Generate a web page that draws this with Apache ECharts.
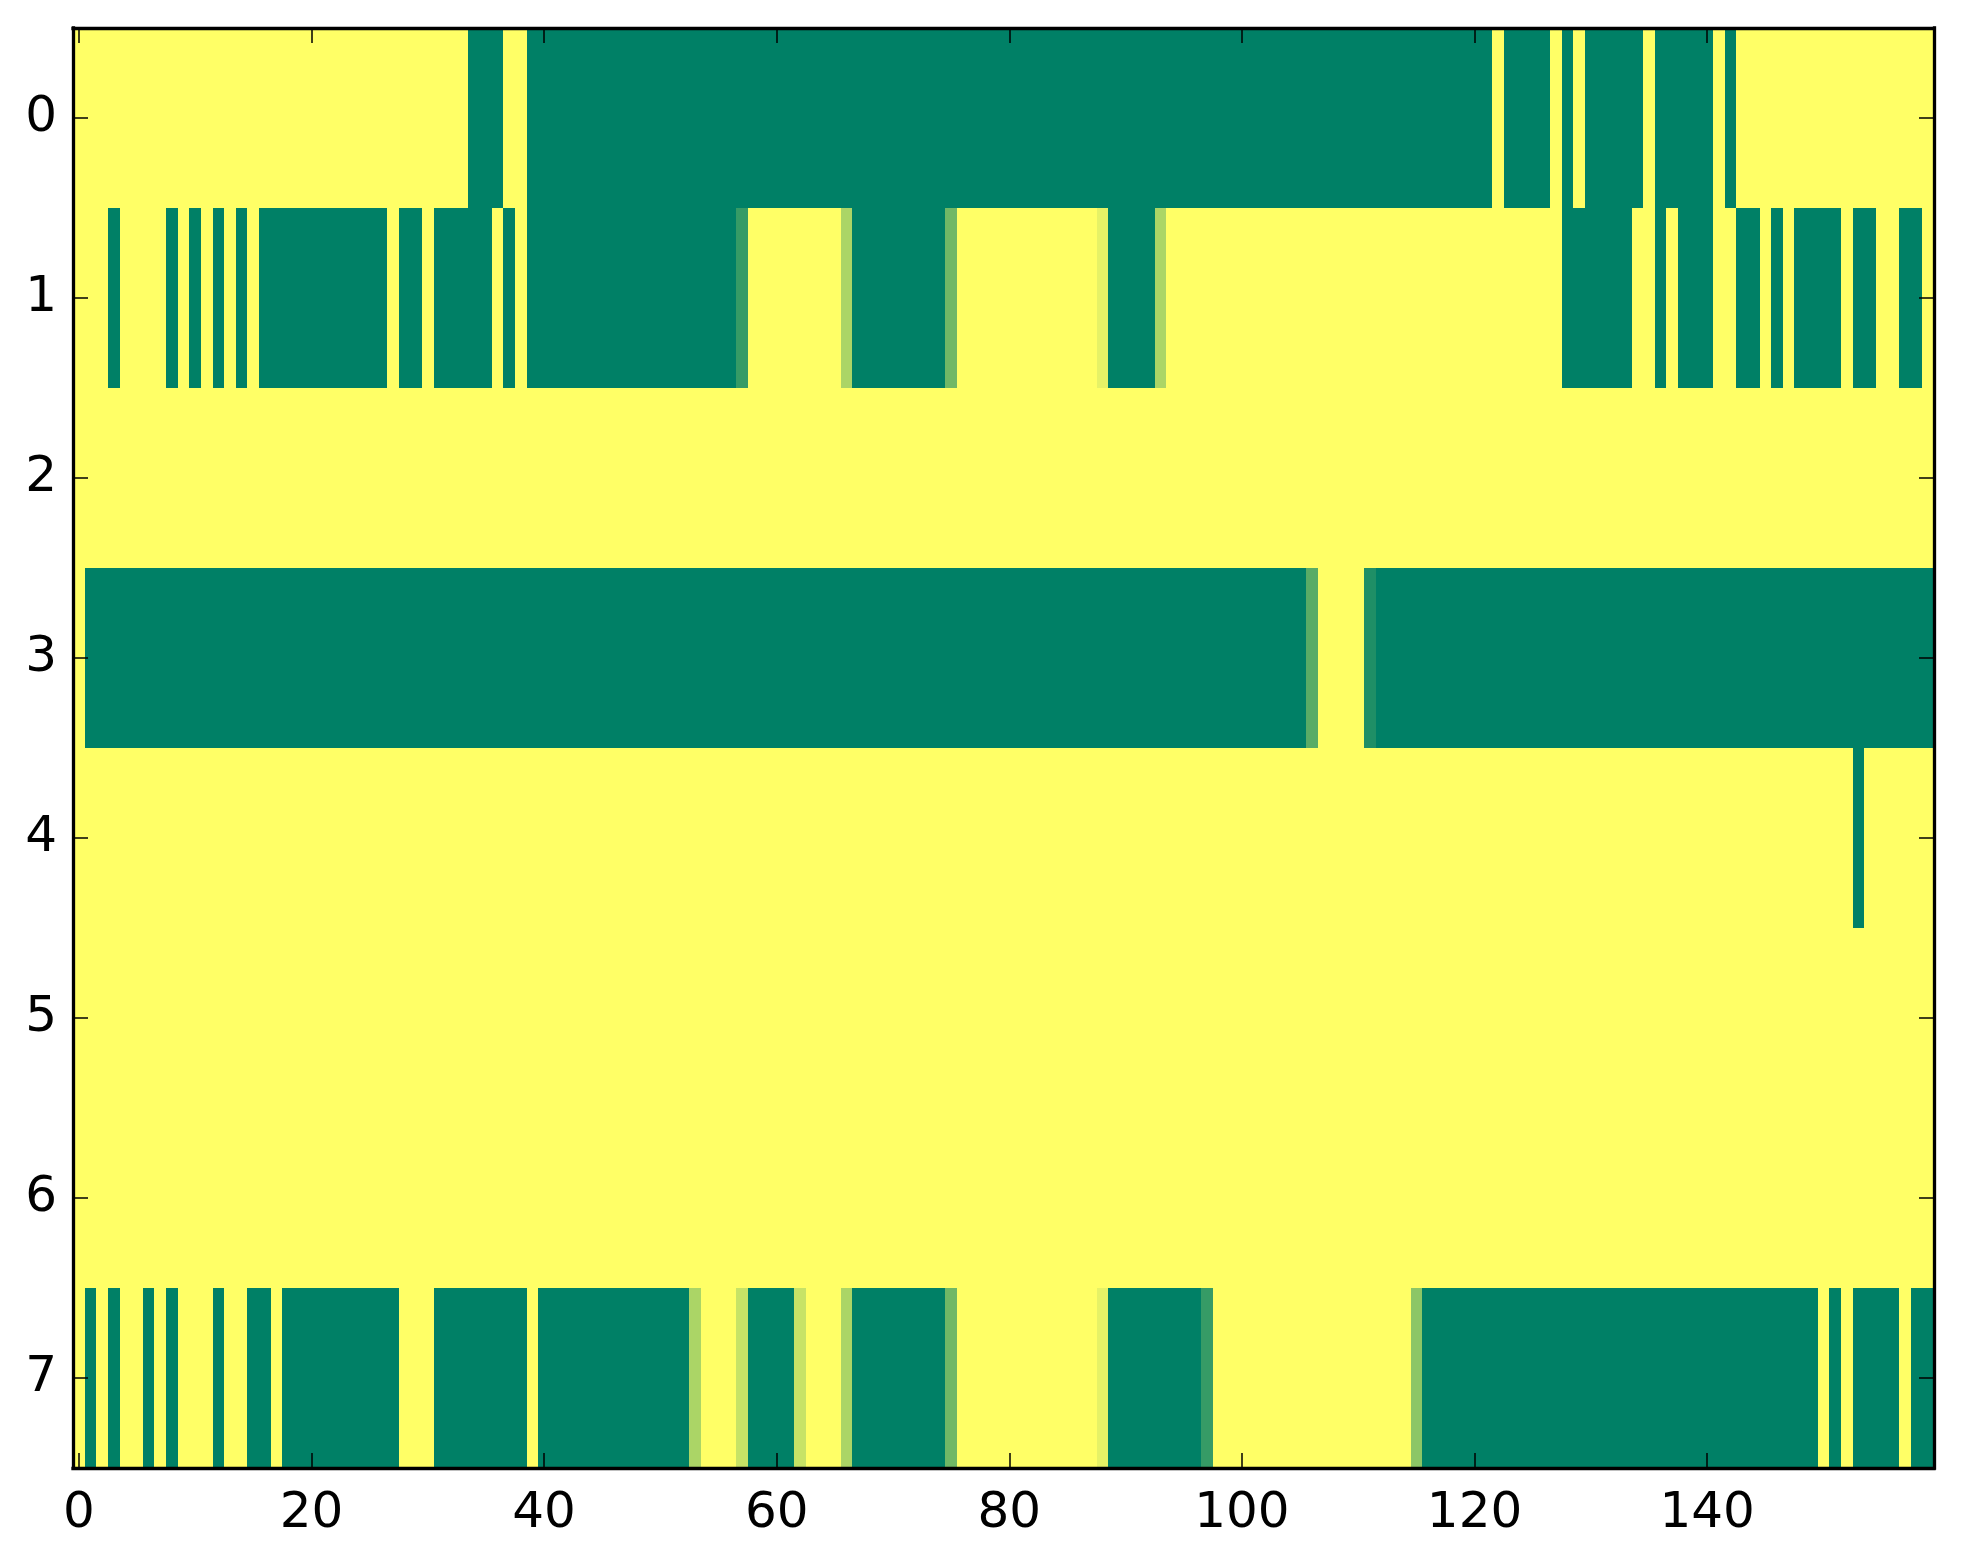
<!DOCTYPE html>
<html>
<head>
<meta charset="utf-8">
<script src="https://cdn.jsdelivr.net/npm/echarts@6/dist/echarts.min.js"></script>
<style>
html,body{margin:0;padding:0;background:#ffffff;}
#chart{width:1963px;height:1564px;}
</style>
</head>
<body>
<div id="chart"></div>
<script>
// Row values (0 = green end, 1 = yellow end of the "summer" colormap)
const row0 = [
1,1,1,1,1,1,1,1,1,1,
1,1,1,1,1,1,1,1,1,1,
1,1,1,1,1,1,1,1,1,1,
1,1,1,1,0,0,0,1,1,0,
0,0,0,0,0,0,0,0,0,0,
0,0,0,0,0,0,0,0,0,0,
0,0,0,0,0,0,0,0,0,0,
0,0,0,0,0,0,0,0,0,0,
0,0,0,0,0,0,0,0,0,0,
0,0,0,0,0,0,0,0,0,0,
0,0,0,0,0,0,0,0,0,0,
0,0,0,0,0,0,0,0,0,0,
0,0,1,0,0,0,0,1,0,1,
0,0,0,0,0,1,0,0,0,0,
0,1,0,1,1,1,1,1,1,1,
1,1,1,1,1,1,1,1,1,1
];
const row1 = [
1,1,1,0,1,1,1,1,0,1,
0,1,0,1,0,1,0,0,0,0,
0,0,0,0,0,0,0,1,0,0,
1,0,0,0,0,0,1,0,1,0,
0,0,0,0,0,0,0,0,0,0,
0,0,0,0,0,0,0,0.21,1,1,
1,1,1,1,1,1,0.67,0,0,0,
0,0,0,0,0,0.44,1,1,1,1,
1,1,1,1,1,1,1,1,0.9,0,
0,0,0,0.67,1,1,1,1,1,1,
1,1,1,1,1,1,1,1,1,1,
1,1,1,1,1,1,1,1,1,1,
1,1,1,1,1,1,1,1,0,0,
0,0,0,0,1,1,0,1,0,0,
0,1,1,0,0,1,0,1,0,0,
0,0,1,0,0,1,1,0,0,1
];
const row2 = [
1,1,1,1,1,1,1,1,1,1,
1,1,1,1,1,1,1,1,1,1,
1,1,1,1,1,1,1,1,1,1,
1,1,1,1,1,1,1,1,1,1,
1,1,1,1,1,1,1,1,1,1,
1,1,1,1,1,1,1,1,1,1,
1,1,1,1,1,1,1,1,1,1,
1,1,1,1,1,1,1,1,1,1,
1,1,1,1,1,1,1,1,1,1,
1,1,1,1,1,1,1,1,1,1,
1,1,1,1,1,1,1,1,1,1,
1,1,1,1,1,1,1,1,1,1,
1,1,1,1,1,1,1,1,1,1,
1,1,1,1,1,1,1,1,1,1,
1,1,1,1,1,1,1,1,1,1,
1,1,1,1,1,1,1,1,1,1
];
const row3 = [
1,0,0,0,0,0,0,0,0,0,
0,0,0,0,0,0,0,0,0,0,
0,0,0,0,0,0,0,0,0,0,
0,0,0,0,0,0,0,0,0,0,
0,0,0,0,0,0,0,0,0,0,
0,0,0,0,0,0,0,0,0,0,
0,0,0,0,0,0,0,0,0,0,
0,0,0,0,0,0,0,0,0,0,
0,0,0,0,0,0,0,0,0,0,
0,0,0,0,0,0,0,0,0,0,
0,0,0,0,0,0,0.35,1,1,1,
1,0.12,0,0,0,0,0,0,0,0,
0,0,0,0,0,0,0,0,0,0,
0,0,0,0,0,0,0,0,0,0,
0,0,0,0,0,0,0,0,0,0,
0,0,0,0,0,0,0,0,0,0
];
const row4 = [
1,1,1,1,1,1,1,1,1,1,
1,1,1,1,1,1,1,1,1,1,
1,1,1,1,1,1,1,1,1,1,
1,1,1,1,1,1,1,1,1,1,
1,1,1,1,1,1,1,1,1,1,
1,1,1,1,1,1,1,1,1,1,
1,1,1,1,1,1,1,1,1,1,
1,1,1,1,1,1,1,1,1,1,
1,1,1,1,1,1,1,1,1,1,
1,1,1,1,1,1,1,1,1,1,
1,1,1,1,1,1,1,1,1,1,
1,1,1,1,1,1,1,1,1,1,
1,1,1,1,1,1,1,1,1,1,
1,1,1,1,1,1,1,1,1,1,
1,1,1,1,1,1,1,1,1,1,
1,1,1,0,1,1,1,1,1,1
];
const row5 = [
1,1,1,1,1,1,1,1,1,1,
1,1,1,1,1,1,1,1,1,1,
1,1,1,1,1,1,1,1,1,1,
1,1,1,1,1,1,1,1,1,1,
1,1,1,1,1,1,1,1,1,1,
1,1,1,1,1,1,1,1,1,1,
1,1,1,1,1,1,1,1,1,1,
1,1,1,1,1,1,1,1,1,1,
1,1,1,1,1,1,1,1,1,1,
1,1,1,1,1,1,1,1,1,1,
1,1,1,1,1,1,1,1,1,1,
1,1,1,1,1,1,1,1,1,1,
1,1,1,1,1,1,1,1,1,1,
1,1,1,1,1,1,1,1,1,1,
1,1,1,1,1,1,1,1,1,1,
1,1,1,1,1,1,1,1,1,1
];
const row6 = [
1,1,1,1,1,1,1,1,1,1,
1,1,1,1,1,1,1,1,1,1,
1,1,1,1,1,1,1,1,1,1,
1,1,1,1,1,1,1,1,1,1,
1,1,1,1,1,1,1,1,1,1,
1,1,1,1,1,1,1,1,1,1,
1,1,1,1,1,1,1,1,1,1,
1,1,1,1,1,1,1,1,1,1,
1,1,1,1,1,1,1,1,1,1,
1,1,1,1,1,1,1,1,1,1,
1,1,1,1,1,1,1,1,1,1,
1,1,1,1,1,1,1,1,1,1,
1,1,1,1,1,1,1,1,1,1,
1,1,1,1,1,1,1,1,1,1,
1,1,1,1,1,1,1,1,1,1,
1,1,1,1,1,1,1,1,1,1
];
const row7 = [
1,0,1,0,1,1,0,1,0,1,
1,1,0,1,1,0,0,1,0,0,
0,0,0,0,0,0,0,0,1,1,
1,0,0,0,0,0,0,0,0,1,
0,0,0,0,0,0,0,0,0,0,
0,0,0,0.67,1,1,1,0.78,0,0,
0,0,0.78,1,1,1,0.67,0,0,0,
0,0,0,0,0,0.44,1,1,1,1,
1,1,1,1,1,1,1,1,0.9,0,
0,0,0,0,0,0,0,0.21,1,1,
1,1,1,1,1,1,1,1,1,1,
1,1,1,1,1,0.55,0,0,0,0,
0,0,0,0,0,0,0,0,0,0,
0,0,0,0,0,0,0,0,0,0,
0,0,0,0,0,0,0,0,0,0,
1,0,1,0,0,0,0,1,0,0
];
const rows = [row0, row1, row2, row3, row4, row5, row6, row7];
const xTickValues = [0, 20, 40, 60, 80, 100, 120, 140];
const yTickValues = [0, 1, 2, 3, 4, 5, 6, 7];

const cells = [];
rows.forEach(function (r, yi) {
  r.forEach(function (v, xi) { cells.push([xi, yi, v]); });
});

const chart = echarts.init(document.getElementById('chart'), null, {renderer: 'canvas'});
const labelFont = {fontFamily: 'DejaVu Sans', fontSize: 50, color: '#000000'};
const lineStyle = {color: '#000000', width: 3.3, cap: 'square'};
const tickStyle = {color: '#000000', width: 1.5};

function xAxisDef(pos, showLabel) {
  return {
    type: 'value', position: pos, min: -0.5, max: 159.5, z: 20,
    axisLine: {show: true, onZero: false, lineStyle: lineStyle},
    axisTick: {show: true, inside: true, length: 15, lineStyle: tickStyle, customValues: xTickValues},
    axisLabel: Object.assign({show: showLabel, margin: 21, customValues: xTickValues}, labelFont),
    splitLine: {show: false}
  };
}
function yAxisDef(pos, showLabel) {
  return {
    type: 'value', position: pos, min: -0.5, max: 7.5, inverse: true, z: 20,
    axisLine: {show: true, onZero: false, lineStyle: lineStyle},
    axisTick: {show: true, inside: true, length: 15, lineStyle: tickStyle, customValues: yTickValues},
    axisLabel: Object.assign({show: showLabel, margin: 16, customValues: yTickValues}, labelFont),
    splitLine: {show: false}
  };
}

chart.setOption({
  animation: false,
  backgroundColor: '#ffffff',
  grid: {left: 73, right: 29, top: 28, bottom: 96, containLabel: false},
  xAxis: [xAxisDef('bottom', true), xAxisDef('top', false)],
  yAxis: [yAxisDef('left', true), yAxisDef('right', false)],
  visualMap: {
    show: false, type: 'continuous', min: 0, max: 1, dimension: 2, seriesIndex: 0,
    inRange: {color: ['#008066', '#ffff66']}
  },
  series: [{
    type: 'custom',
    xAxisIndex: 0, yAxisIndex: 0,
    clip: true,
    z: 1,
    data: cells,
    encode: {x: 0, y: 1},
    renderItem: function (params, api) {
      const x = api.value(0), y = api.value(1);
      const a = api.coord([x - 0.5, y - 0.5]);
      const b = api.coord([x + 0.5, y + 0.5]);
      const x0 = Math.round(Math.min(a[0], b[0])), x1 = Math.round(Math.max(a[0], b[0]));
      const y0 = Math.round(Math.min(a[1], b[1])), y1 = Math.round(Math.max(a[1], b[1]));
      return {
        type: 'rect',
        shape: {x: x0, y: y0, width: x1 - x0, height: y1 - y0},
        style: {fill: api.visual('color')}
      };
    }
  }]
});
</script>
</body>
</html>
